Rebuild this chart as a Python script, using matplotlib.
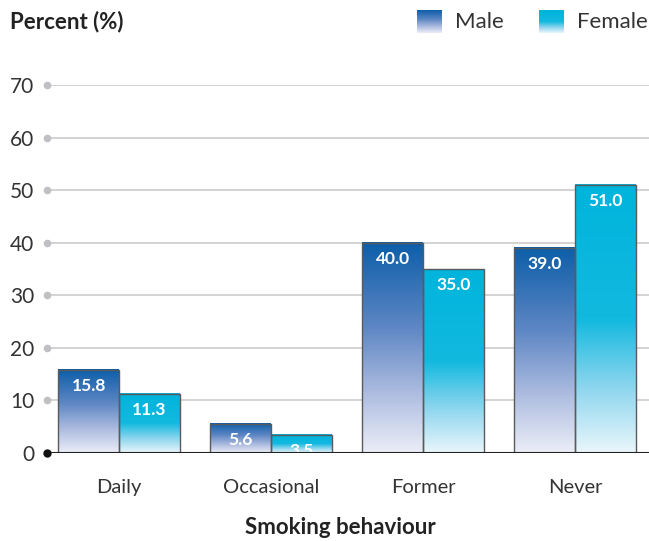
import numpy as np
import matplotlib.pyplot as plt
from matplotlib.colors import LinearSegmentedColormap

categories = ["Daily", "Occasional", "Former", "Never"]
male = [15.8, 5.6, 40.0, 39.0]
female = [11.3, 3.5, 35.0, 51.0]
yticks = [0, 10, 20, 30, 40, 50, 60, 70]

plt.rcParams['font.family'] = ['Lato', 'DejaVu Sans']

male_cmap = LinearSegmentedColormap.from_list(
    "male", [(0, "#eceef8"), (0.3, "#a9b9de"), (0.6, "#5d86c4"), (1, "#0c5ea9")])
female_cmap = LinearSegmentedColormap.from_list(
    "female", [(0, "#eaf6fb"), (0.25, "#8ad5ee"), (0.5, "#12b9df"), (1, "#00b4dc")])

W, H = 649, 541
fig = plt.figure(figsize=(W / 100, H / 100), dpi=100)
ax = fig.add_axes([47 / W, (H - 453) / H, (W - 47) / W, (453 - 85) / H])
ax.set_xlim(-0.474, 3.487)
ax.set_ylim(0, 70)

grad = np.linspace(0, 1, 256).reshape(-1, 1)
width = 0.4


def draw_bar(x0, h, cmap, label):
    ax.imshow(grad, cmap=cmap, origin="lower", aspect="auto",
              extent=[x0, x0 + width, 0, h], zorder=2)
    ax.bar(x0, h, width=width, align="edge", facecolor="none",
           edgecolor="#5a5a5a", linewidth=1, zorder=3)
    ax.text(x0 + width / 2, h - 1.6, f"{label:.1f}", ha="center", va="top",
            color="white", fontsize=12.5, fontweight="bold", zorder=4)


x = np.arange(len(categories))
for i in range(len(categories)):
    draw_bar(x[i] - width, male[i], male_cmap, male[i])
    draw_bar(x[i], female[i], female_cmap, female[i])

# grid lines with dots at the left end
for t in yticks[1:]:
    ax.axhline(t, color="#cccccc", linewidth=1.2, zorder=1)
    ax.plot([-0.474], [t], "o", color="#c0c0c4", markersize=4.5, clip_on=False, zorder=5)
ax.axhline(0, color="#222222", linewidth=1.5, zorder=5)
ax.plot([-0.474], [0], "o", color="#111111", markersize=5, clip_on=False, zorder=6)

for s in ax.spines.values():
    s.set_visible(False)
ax.set_yticks(yticks)
ax.set_yticklabels([str(t) for t in yticks], fontsize=15, color="#333333")
ax.set_xticks(x)
ax.set_xticklabels(categories, fontsize=14.5, color="#333333")
ax.tick_params(axis="y", length=0, pad=9)
ax.tick_params(axis="x", length=0, pad=19)

fig.text(10 / W, 1 - 22 / H, "Percent (%)", fontsize=16, fontweight="bold",
         color="#222222", ha="left", va="center")
fig.text(340 / W, 1 - 528 / H, "Smoking behaviour", fontsize=16, fontweight="bold",
         color="#222222", ha="center", va="center")

# legend
for x0, cmap, name in [(417, male_cmap, "Male"), (539, female_cmap, "Female")]:
    lax = fig.add_axes([x0 / W, 1 - 33 / H, 25 / W, 23 / H])
    lax.imshow(grad, cmap=cmap, origin="lower", aspect="auto")
    lax.axis("off")
    fig.text((x0 + 38) / W, 1 - 22 / H, name, fontsize=16, color="#333333",
             ha="left", va="center")

fig.savefig("out.png", dpi=100)
